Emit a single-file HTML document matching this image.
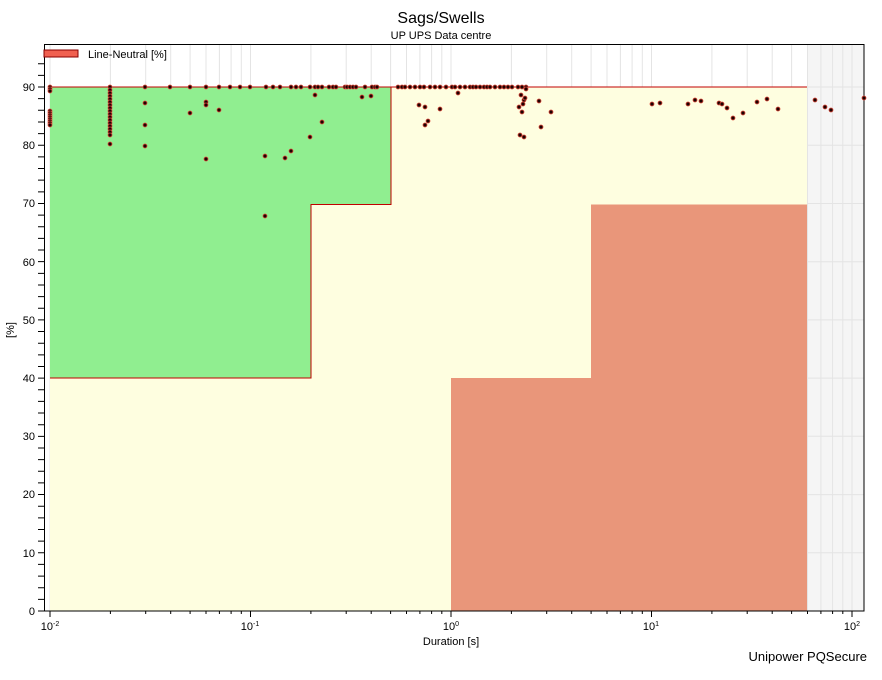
<!DOCTYPE html>
<html><head><style>
body{margin:0;background:#fff;width:882px;height:675px;overflow:hidden;font-family:"Liberation Sans",sans-serif}
</style></head><body>
<svg width="882" height="675" xmlns="http://www.w3.org/2000/svg" font-family="Liberation Sans, sans-serif">
<text x="441" y="23" font-size="16" text-anchor="middle">Sags/Swells</text>
<text x="441" y="39" font-size="11" text-anchor="middle">UP UPS Data centre</text>
<rect x="807" y="44" width="57" height="567" fill="#f5f5f5"/>
<g stroke="#e4e4e4" stroke-width="1">
<path d="M50 44V611M110.4 44V611M145.7 44V611M170.7 44V611M190.1 44V611M206 44V611M219.4 44V611M231.1 44V611M241.3 44V611
M250.5 44V611M310.9 44V611M346.2 44V611M371.2 44V611M390.6 44V611M406.5 44V611M419.9 44V611M431.6 44V611M441.8 44V611
M451 44V611M511.4 44V611M546.7 44V611M571.7 44V611M591.1 44V611M607 44V611M620.4 44V611M632.1 44V611M642.3 44V611
M651.5 44V611M711.9 44V611M747.2 44V611M772.2 44V611M791.6 44V611M807.5 44V611M820.9 44V611M832.6 44V611M842.8 44V611M852 44V611"/>
<path d="M807 87H864M807 145.2H864M807 203.5H864M807 261.7H864M807 319.9H864M807 378.1H864M807 436.3H864M807 494.6H864M807 552.8H864"/>
</g>
<rect x="50" y="87" width="757" height="524" fill="#fefee0"/>
<polygon points="50,87 391,87 391,204.5 311,204.5 311,378 50,378" fill="#90ee90"/>
<rect x="451" y="378" width="140" height="233" fill="#e9967a"/>
<rect x="591" y="204.5" width="216" height="406.5" fill="#e9967a"/>
<polyline points="50,378 311,378 311,204.5 391,204.5 391,87 807,87" fill="none" stroke="#c00000" stroke-width="1"/>
<line x1="50" y1="87" x2="391" y2="87" stroke="#c00000"/>
<rect x="44.5" y="44.5" width="819.5" height="566.5" fill="none" stroke="#000"/>
<line x1="41" y1="611.5" x2="41" y2="60" stroke="#000" stroke-width="6" stroke-dasharray="1 10.644"/>
<g stroke="#000">
<path d="M50 611V617M250.5 611V617M451 611V617M651.5 611V617M852 611V617
M110.4 611V614M145.7 611V614M170.7 611V614M190.1 611V614M206 611V614M219.4 611V614M231.1 611V614M241.3 611V614
M310.9 611V614M346.2 611V614M371.2 611V614M390.6 611V614M406.5 611V614M419.9 611V614M431.6 611V614M441.8 611V614
M511.4 611V614M546.7 611V614M571.7 611V614M591.1 611V614M607 611V614M620.4 611V614M632.1 611V614M642.3 611V614
M711.9 611V614M747.2 611V614M772.2 611V614M791.6 611V614M807.5 611V614M820.9 611V614M832.6 611V614M842.8 611V614"/>
</g>
<g fill="#200000" stroke="#e05040" stroke-width="0.8">
<circle cx="50" cy="87" r="2"/><circle cx="110" cy="87" r="2"/><circle cx="145" cy="87" r="2"/><circle cx="170" cy="87" r="2"/><circle cx="190" cy="87" r="2"/><circle cx="206" cy="87" r="2"/><circle cx="219" cy="87" r="2"/><circle cx="230" cy="87" r="2"/><circle cx="240" cy="87" r="2"/><circle cx="250" cy="87" r="2"/><circle cx="266" cy="87" r="2"/><circle cx="273" cy="87" r="2"/><circle cx="280" cy="87" r="2"/><circle cx="291" cy="87" r="2"/><circle cx="296" cy="87" r="2"/><circle cx="301" cy="87" r="2"/><circle cx="310" cy="87" r="2"/><circle cx="315" cy="87" r="2"/><circle cx="318" cy="87" r="2"/><circle cx="322" cy="87" r="2"/><circle cx="329" cy="87" r="2"/><circle cx="333" cy="87" r="2"/><circle cx="336" cy="87" r="2"/><circle cx="345" cy="87" r="2"/><circle cx="347" cy="87" r="2"/><circle cx="350" cy="87" r="2"/><circle cx="353" cy="87" r="2"/><circle cx="356" cy="87" r="2"/><circle cx="365" cy="87" r="2"/><circle cx="372" cy="87" r="2"/><circle cx="375" cy="87" r="2"/><circle cx="377" cy="87" r="2"/>
<circle cx="398" cy="87" r="2"/><circle cx="402" cy="87" r="2"/><circle cx="405" cy="87" r="2"/><circle cx="410" cy="87" r="2"/><circle cx="415" cy="87" r="2"/><circle cx="420" cy="87" r="2"/><circle cx="424" cy="87" r="2"/><circle cx="430" cy="87" r="2"/><circle cx="435" cy="87" r="2"/><circle cx="440" cy="87" r="2"/><circle cx="446" cy="87" r="2"/><circle cx="452" cy="87" r="2"/><circle cx="455" cy="87" r="2"/><circle cx="460" cy="87" r="2"/><circle cx="465" cy="87" r="2"/><circle cx="470" cy="87" r="2"/><circle cx="473" cy="87" r="2"/><circle cx="476" cy="87" r="2"/><circle cx="480" cy="87" r="2"/><circle cx="484" cy="87" r="2"/><circle cx="487" cy="87" r="2"/><circle cx="490" cy="87" r="2"/><circle cx="495" cy="87" r="2"/><circle cx="500" cy="87" r="2"/><circle cx="504" cy="87" r="2"/><circle cx="508" cy="87" r="2"/><circle cx="512" cy="87" r="2"/><circle cx="518" cy="87" r="2"/><circle cx="522" cy="87" r="2"/><circle cx="526" cy="87" r="2"/>
<circle cx="50" cy="89" r="2"/><circle cx="50" cy="91" r="2"/>
<circle cx="50" cy="111" r="2"/><circle cx="50" cy="113" r="2"/><circle cx="50" cy="115" r="2"/><circle cx="50" cy="117" r="2"/><circle cx="50" cy="119" r="2"/><circle cx="50" cy="121" r="2"/><circle cx="50" cy="123" r="2"/><circle cx="50" cy="125" r="2"/>
<circle cx="110" cy="90" r="2"/><circle cx="110" cy="93" r="2"/><circle cx="110" cy="96" r="2"/><circle cx="110" cy="99" r="2"/><circle cx="110" cy="102" r="2"/><circle cx="110" cy="105" r="2"/><circle cx="110" cy="108" r="2"/><circle cx="110" cy="111" r="2"/><circle cx="110" cy="114" r="2"/><circle cx="110" cy="117" r="2"/><circle cx="110" cy="120" r="2"/><circle cx="110" cy="123" r="2"/><circle cx="110" cy="126" r="2"/><circle cx="110" cy="129" r="2"/><circle cx="110" cy="132" r="2"/><circle cx="110" cy="135" r="2"/><circle cx="110" cy="144" r="2"/>
<circle cx="145" cy="103" r="2"/><circle cx="145" cy="125" r="2"/><circle cx="145" cy="146" r="2"/><circle cx="190" cy="113" r="2"/><circle cx="206" cy="102" r="2"/><circle cx="206" cy="105" r="2"/><circle cx="206" cy="159" r="2"/><circle cx="219" cy="110" r="2"/><circle cx="265" cy="156" r="2"/><circle cx="265" cy="216" r="2"/><circle cx="285" cy="158" r="2"/><circle cx="291" cy="151" r="2"/><circle cx="310" cy="137" r="2"/><circle cx="315" cy="95" r="2"/><circle cx="322" cy="122" r="2"/><circle cx="362" cy="97" r="2"/><circle cx="371" cy="96" r="2"/>
<circle cx="419" cy="105" r="2"/><circle cx="425" cy="107" r="2"/><circle cx="440" cy="109" r="2"/><circle cx="425" cy="125" r="2"/><circle cx="428" cy="121" r="2"/><circle cx="458" cy="93" r="2"/><circle cx="524" cy="100" r="2"/><circle cx="525" cy="98" r="2"/><circle cx="519" cy="107" r="2"/><circle cx="522" cy="112" r="2"/><circle cx="520" cy="135" r="2"/><circle cx="524" cy="137" r="2"/><circle cx="523" cy="104" r="2"/><circle cx="521" cy="95" r="2"/><circle cx="526" cy="89" r="2"/><circle cx="539" cy="101" r="2"/><circle cx="541" cy="127" r="2"/><circle cx="551" cy="112" r="2"/>
<circle cx="652" cy="104" r="2"/><circle cx="660" cy="103" r="2"/><circle cx="688" cy="104" r="2"/><circle cx="695" cy="100" r="2"/><circle cx="701" cy="101" r="2"/><circle cx="719" cy="103" r="2"/><circle cx="722" cy="104" r="2"/><circle cx="727" cy="108" r="2"/><circle cx="733" cy="118" r="2"/><circle cx="743" cy="113" r="2"/><circle cx="757" cy="102" r="2"/><circle cx="767" cy="99" r="2"/><circle cx="778" cy="109" r="2"/><circle cx="815" cy="100" r="2"/><circle cx="825" cy="107" r="2"/><circle cx="831" cy="110" r="2"/><circle cx="864" cy="98" r="2"/>
</g>
<rect x="44" y="50" width="34" height="7" fill="#f06050" stroke="#800" stroke-width="1"/>
<text x="88" y="58" font-size="11">Line-Neutral [%]</text>
<g font-size="11" text-anchor="end">
<text x="35" y="615">0</text><text x="35" y="557">10</text><text x="35" y="498">20</text><text x="35" y="440">30</text><text x="35" y="382">40</text><text x="35" y="324">50</text><text x="35" y="266">60</text><text x="35" y="207">70</text><text x="35" y="149">80</text><text x="35" y="91">90</text>
</g>
<g font-size="11" text-anchor="middle">
<text x="50" y="630">10<tspan font-size="7" dy="-4">-2</tspan></text>
<text x="250" y="630">10<tspan font-size="7" dy="-4">-1</tspan></text>
<text x="451" y="630">10<tspan font-size="7" dy="-4">0</tspan></text>
<text x="651" y="630">10<tspan font-size="7" dy="-4">1</tspan></text>
<text x="852" y="630">10<tspan font-size="7" dy="-4">2</tspan></text>
</g>
<text x="451" y="645" font-size="11" text-anchor="middle">Duration [s]</text>
<text x="14" y="330" font-size="11" text-anchor="middle" transform="rotate(-90 14 330)">[%]</text>
<text x="867" y="661" font-size="13" text-anchor="end">Unipower PQSecure</text>
</svg>
</body></html>
